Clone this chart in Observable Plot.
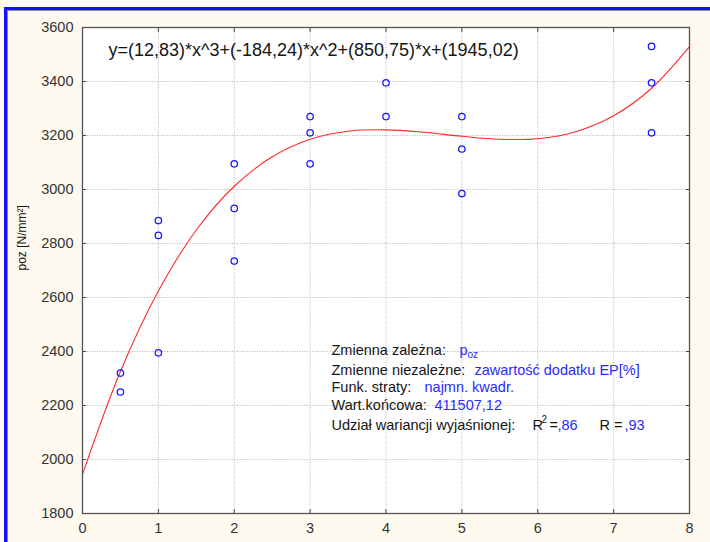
<!DOCTYPE html>
<html><head><meta charset="utf-8">
<script src="https://cdn.jsdelivr.net/npm/d3@7"></script>
<script src="https://cdn.jsdelivr.net/npm/@observablehq/plot@0.6"></script>
<style>
html,body{margin:0;padding:0;background:#fffaef;}
#wrap{position:relative;width:710px;height:542px;overflow:hidden;background:#fffaef;}
#fb{position:absolute;left:4px;top:7px;width:720px;height:560px;border-left:3px solid #1010ff;border-top:3px solid #1010ff;}
#fg{position:absolute;left:7px;top:10px;width:720px;height:560px;border-left:1.5px solid #8a8a8a;border-top:1.5px solid #8a8a8a;}
#chart{position:absolute;left:0;top:0;}
</style></head>
<body><div id="wrap"><div id="fb"></div><div id="fg"></div><div id="chart"></div></div>
<script>
// observed points (zawartość dodatku EP [%], poz [N/mm2])
const pointX = [0.5, 0.5, 1, 1, 1, 2, 2, 2, 3, 3, 3, 4, 4, 5, 5, 5, 7.5, 7.5, 7.5];
const pointY = [2320, 2250, 2885, 2830, 2395, 3095, 2930, 2735, 3270, 3210, 3095, 3395, 3270, 3270, 3150, 2985, 3530, 3395, 3210];
// fitted curve
const curveX = [0, 0.5, 1, 1.5, 2, 2.5, 3, 3.5, 4, 4.5, 5, 5.5, 6, 6.5, 7, 7.5, 8];
const curveY = [1945, 2326, 2624, 2850, 3012, 3121, 3186, 3216, 3221, 3212, 3197, 3186, 3188, 3214, 3273, 3375, 3529];
const xTicks = [0, 1, 2, 3, 4, 5, 6, 7, 8];
const yTicks = [1800, 2000, 2200, 2400, 2600, 2800, 3000, 3200, 3400, 3600];
const xGrid = [1, 2, 3, 4, 5, 6, 7];
const yGrid = [2000, 2200, 2400, 2600, 2800, 3000, 3200, 3400];
const formula = "y=(12,83)*x^3+(-184,24)*x^2+(850,75)*x+(1945,02)";
const yLabel = "poz [N/mm²]";

const points = pointX.map((x, i) => ({x, y: pointY[i]}));
const curve = curveX.map((x, i) => ({x, y: curveY[i]}));

const BLUE = "#2a2aff", BLACK = "#151515";
function seg(str, dx, dy, color, size) {
  return Plot.text([str], {text: d => d, frameAnchor: "top-left", dx, dy,
    textAnchor: "start", lineAnchor: "middle", fontSize: size || 14.5, fill: color});
}
const noText = () => "";
const plain = d => String(d);

const plot = Plot.plot({
  width: 710, height: 542,
  marginLeft: 82, marginRight: 21, marginTop: 27, marginBottom: 29,
  style: {background: "transparent", fontFamily: "'Liberation Sans', Arial, sans-serif", color: "#333", overflow: "visible"},
  x: {domain: [0, 8]},
  y: {domain: [1800, 3600]},
  marks: [
    Plot.frame({fill: "white"}),
    Plot.gridX(xGrid, {stroke: "#b4b4b4", strokeOpacity: 1, strokeDasharray: "1,1.5"}),
    Plot.gridY(yGrid, {stroke: "#b4b4b4", strokeOpacity: 1, strokeDasharray: "1,1.5"}),
    Plot.axisX(xTicks, {tickSize: 0, tickPadding: 9, fontSize: 14.5, label: null, fill: "#333", tickFormat: plain}),
    Plot.axisY(yTicks, {tickSize: 0, tickPadding: 9, fontSize: 14.5, label: null, fill: "#333", tickFormat: plain}),
    Plot.axisX(xTicks, {anchor: "bottom", tickSize: -4, tickFormat: noText, label: null, stroke: "#444"}),
    Plot.axisX(xTicks, {anchor: "top", tickSize: -4, tickFormat: noText, label: null, stroke: "#444"}),
    Plot.axisY(yTicks, {anchor: "left", tickSize: -4, tickFormat: noText, label: null, stroke: "#444"}),
    Plot.axisY(yTicks, {anchor: "right", tickSize: -4, tickFormat: noText, label: null, stroke: "#444"}),
    Plot.line(curve, {x: "x", y: "y", stroke: "#ff2a2a", strokeWidth: 1.1, curve: "catmull-rom"}),
    Plot.dot(points, {x: "x", y: "y", r: 3.2, stroke: "#1a1aff", strokeWidth: 1.3, fill: "none"}),
    Plot.frame({stroke: "#555", strokeWidth: 1.3}),
    Plot.text([yLabel], {text: d => d, frameAnchor: "left", dx: -60, rotate: -90, fontSize: 12, fill: BLACK}),
    seg(formula, 26, 23, BLACK, 18),
    seg("Zmienna zależna:", 249, 323, BLACK),
    seg("p", 377, 323, BLUE),
    seg("oz", 385, 327, BLUE, 10),
    seg("Zmienne niezależne:", 249, 343, BLACK),
    seg("zawartość dodatku EP[%]", 392, 343, BLUE),
    seg("Funk. straty:", 249, 360, BLACK),
    seg("najmn. kwadr.", 342, 360, BLUE),
    seg("Wart.końcowa:", 249, 378, BLACK),
    seg("411507,12", 352, 378, BLUE),
    seg("Udział wariancji wyjaśnionej:", 249, 398, BLACK),
    seg("R", 450, 398, BLACK),
    seg("2", 459, 392, BLACK, 10),
    seg("=", 467, 398, BLACK),
    seg(",86", 475, 398, BLUE),
    seg("R =", 517, 398, BLACK),
    seg(",93", 542, 398, BLUE)
  ]
});
document.getElementById("chart").appendChild(plot);
</script>
</body></html>
